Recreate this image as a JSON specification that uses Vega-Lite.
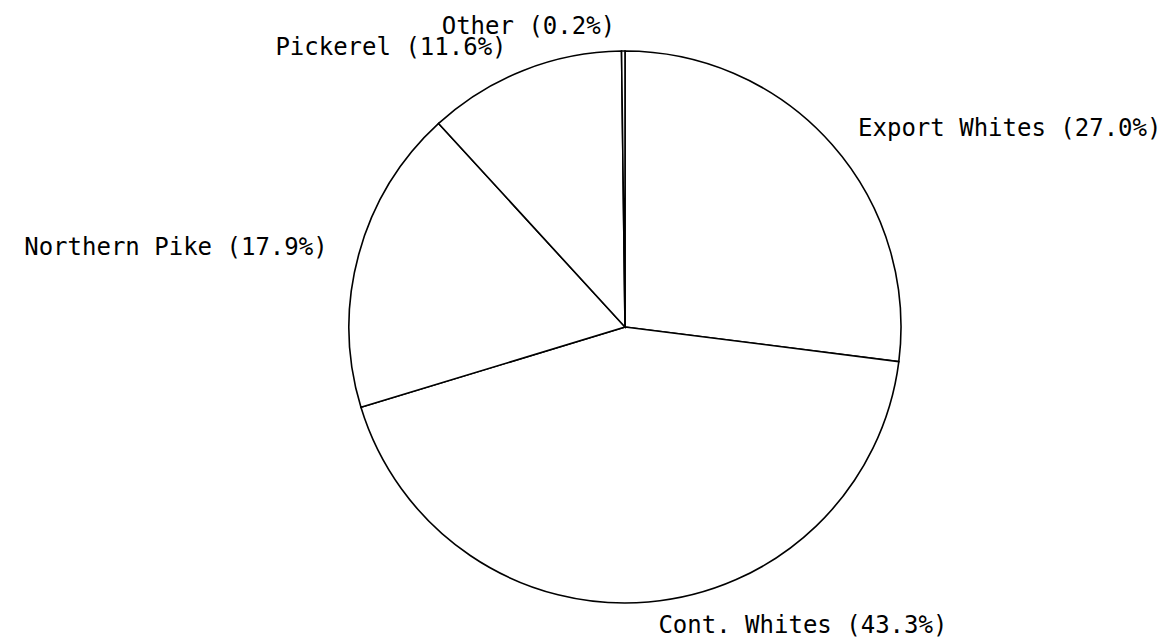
{
  "$schema": "https://vega.github.io/schema/vega-lite/v6.json",
  "width": 1094,
  "height": 630,
  "autosize": {"type": "none"},
  "padding": {"left": 78, "top": 12, "right": 0, "bottom": 0},
  "background": "white",
  "config": {"view": {"stroke": null}},
  "data": {
    "values": [
      {"category": "Export Whites", "share": 27.0, "label": "Export Whites (27.0%)"},
      {"category": "Cont. Whites", "share": 43.3, "label": "Cont. Whites (43.3%)"},
      {"category": "Northern Pike", "share": 17.9, "label": "Northern Pike (17.9%)"},
      {"category": "Pickerel", "share": 11.6, "label": "Pickerel (11.6%)"},
      {"category": "Other", "share": 0.2, "label": "Other (0.2%)"}
    ]
  },
  "transform": [{"window": [{"op": "row_number", "as": "seq"}]}],
  "layer": [
    {
      "mark": {"type": "arc", "outerRadius": 276, "fill": "white", "stroke": "black", "strokeWidth": 1.6},
      "encoding": {
        "theta": {"field": "share", "type": "quantitative", "stack": true},
        "order": {"field": "seq", "type": "quantitative", "sort": "ascending"}
      }
    },
    {
      "mark": {"type": "text", "radius": 300, "align": "left", "baseline": "middle", "dx": 8, "font": "DejaVu Sans Mono", "fontSize": 24, "color": "black"},
      "encoding": {
        "theta": {"field": "share", "type": "quantitative", "stack": true},
        "order": {"field": "seq", "type": "quantitative", "sort": "ascending"},
        "text": {"condition": {"test": "indexof(['Export Whites', 'Cont. Whites'], datum.category) >= 0", "field": "label"}, "value": ""}
      }
    },
    {
      "mark": {"type": "text", "radius": 300, "align": "right", "baseline": "middle", "dx": -8, "font": "DejaVu Sans Mono", "fontSize": 24, "color": "black"},
      "encoding": {
        "theta": {"field": "share", "type": "quantitative", "stack": true},
        "order": {"field": "seq", "type": "quantitative", "sort": "ascending"},
        "text": {"condition": {"test": "indexof(['Export Whites', 'Cont. Whites'], datum.category) < 0", "field": "label"}, "value": ""}
      }
    }
  ]
}
